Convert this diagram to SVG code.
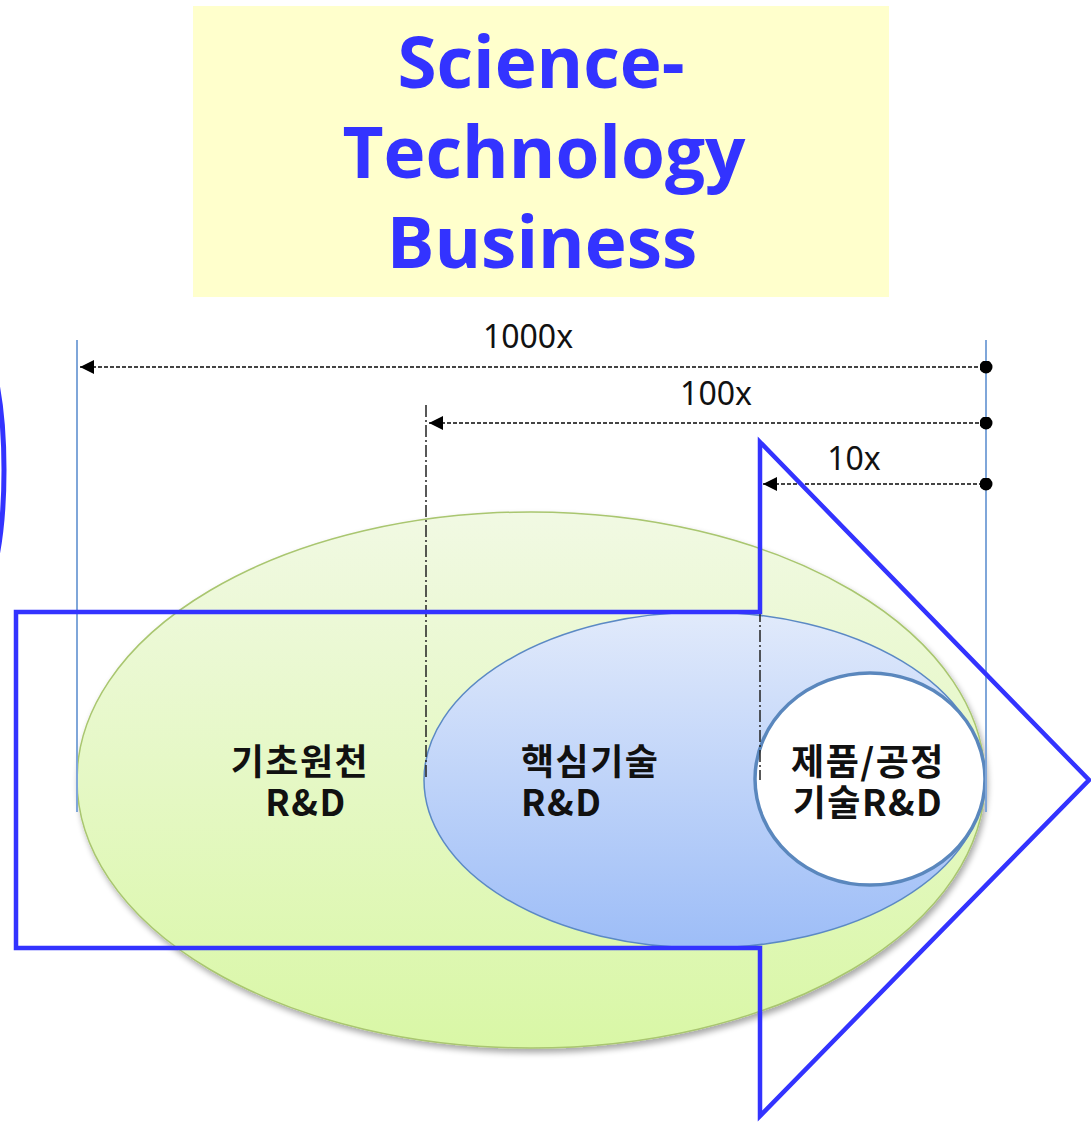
<svg xmlns="http://www.w3.org/2000/svg" width="1091" height="1122" viewBox="0 0 1091 1122">
<style>
.title{font-family:"Open Sans","Noto Sans",sans-serif;font-weight:700;font-size:71px;fill:#3333ff;text-anchor:middle}
.dim{font-family:"Noto Sans","Noto Sans CJK KR",sans-serif;font-size:32px;fill:#111;text-anchor:middle}
.lbl{font-family:"Noto Sans CJK KR","Noto Sans",sans-serif;font-weight:700;font-size:36px;letter-spacing:1.5px;fill:#111}
.ext{stroke:#7fa6d9;stroke-width:2;fill:none}
.dash{stroke:#444;stroke-width:2.2;stroke-dasharray:4 2;fill:none;marker-start:url(#arr);marker-end:url(#dot)}
.dd{stroke:#222;stroke-width:1.5;stroke-dasharray:12 3 2 3;fill:none}
.big{fill:none;stroke:#3333ff;stroke-width:4.5}
</style>
<defs>
<marker id="arr" viewBox="0 0 10 10" refX="0" refY="5" markerWidth="14" markerHeight="14" markerUnits="userSpaceOnUse" orient="auto"><path d="M0,5 L10,0 L10,10 Z" fill="#000"/></marker>
<marker id="dot" viewBox="0 0 10 10" refX="5" refY="5" markerWidth="13" markerHeight="13" markerUnits="userSpaceOnUse"><circle cx="5" cy="5" r="5" fill="#000"/></marker>
<linearGradient id="gGreen" x1="0" y1="0" x2="0" y2="1"><stop offset="0" stop-color="#f1f9e3"/><stop offset="1" stop-color="#d9f7a6"/></linearGradient>
<linearGradient id="gBlue" x1="0" y1="0" x2="0" y2="1"><stop offset="0" stop-color="#e1eafb"/><stop offset="1" stop-color="#9dbdf7"/></linearGradient>
<filter id="sh" x="-10%" y="-10%" width="120%" height="125%"><feGaussianBlur in="SourceAlpha" stdDeviation="3"/><feOffset dx="2" dy="4"/><feComponentTransfer><feFuncA type="linear" slope="0.35"/></feComponentTransfer><feMerge><feMergeNode/><feMergeNode in="SourceGraphic"/></feMerge></filter>
</defs>
<rect width="1091" height="1122" fill="#fff"/>
<g id="title">
<rect x="193" y="6" width="696" height="291" fill="#ffffcc"/>
<text class="title" x="541" y="88">Science-</text>
<text class="title" x="544" y="178">Technology</text>
<text class="title" x="542" y="268">Business</text>
</g>
<ellipse id="leftArc" cx="-24" cy="470" rx="28" ry="130" fill="none" stroke="#3333ff" stroke-width="5"/>
<g id="connectors">
<line class="ext" x1="77" y1="340" x2="77" y2="812"/>
<line class="ext" x1="986" y1="340" x2="986" y2="812"/>
<path class="dash" d="M80,367 H986"/>
<path class="dash" d="M429,423 H986"/>
<path class="dash" d="M763,484 H986"/>
</g>
<g id="dimLabels">
<text class="dim" x="528" y="348">1000x</text>
<text class="dim" x="716" y="405">100x</text>
<text class="dim" x="854" y="470">10x</text>
</g>
<g id="basic">
<ellipse cx="531" cy="780" rx="454" ry="268" fill="url(#gGreen)" stroke="#a9c66f" stroke-width="1.5" filter="url(#sh)"/>
</g>
<g id="core">
<ellipse cx="704" cy="780" rx="280" ry="168" fill="url(#gBlue)" stroke="#5b89c4" stroke-width="1.5"/>
</g>
<g id="product">
<ellipse cx="870" cy="779" rx="115" ry="106" fill="#fff" stroke="#5a87bd" stroke-width="3.5"/>
</g>
<g id="guides">
<line class="dd" x1="426" y1="405" x2="426" y2="780"/>
<line class="dd" x1="760" y1="490" x2="760" y2="780"/>
<line class="ext" x1="77" y1="600" x2="77" y2="812"/>
<line class="ext" x1="986" y1="600" x2="986" y2="812" stroke-width="1.5"/>
</g>
<g id="labels">
<text class="lbl" text-anchor="middle"><tspan x="300" y="775">기초원천</tspan><tspan x="306" y="816">R&amp;D</tspan></text>
<text class="lbl"><tspan x="521" y="775">핵심기술</tspan><tspan x="521" y="816">R&amp;D</tspan></text>
<text class="lbl" text-anchor="middle"><tspan x="868" y="775">제품/공정</tspan><tspan x="868" y="816">기술R&amp;D</tspan></text>
</g>
<g id="bigArrow">
<polygon class="big" points="16,612 760,612 760,442 1089,780 760,1116 760,948 16,948"/>
</g>
</svg>
